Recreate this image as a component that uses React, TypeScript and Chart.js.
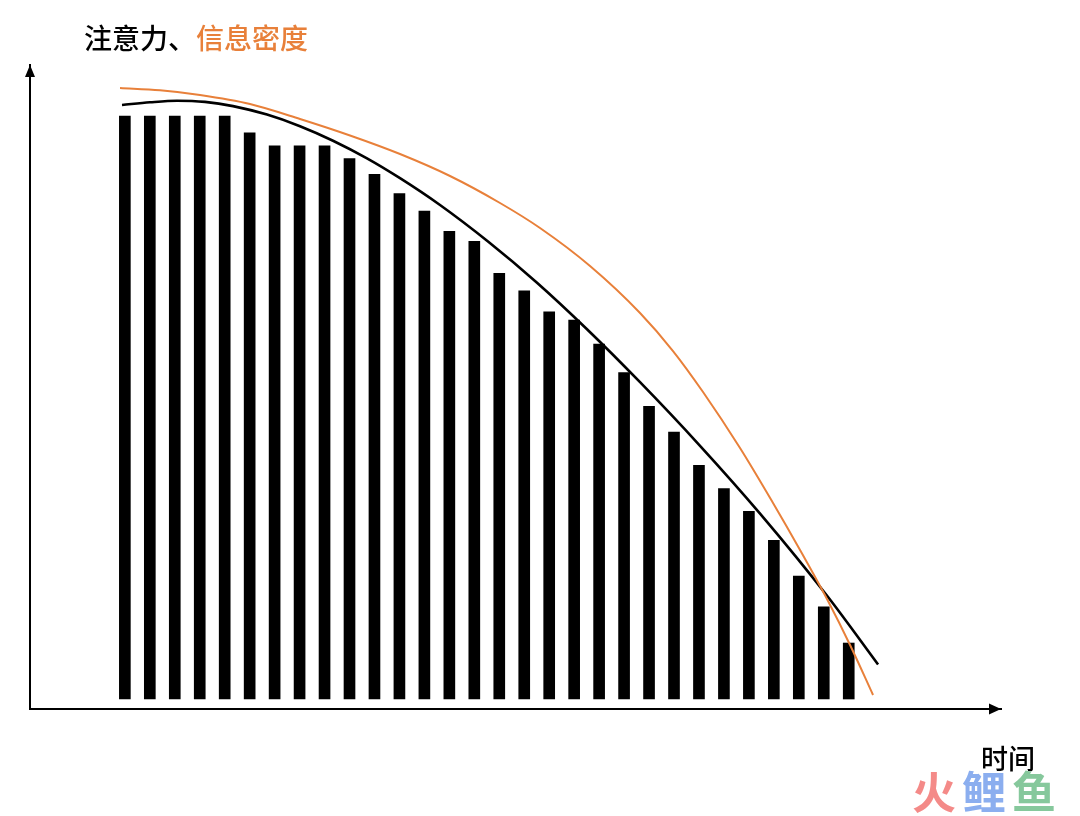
import React, { useEffect, useRef } from "react";
import { Chart, registerables } from "chart.js";

Chart.register(...registerables);

// Bar heights (attention per time slot), 0..100 scale
const barValues = [
  100, 100, 100, 100, 100, 97.1, 94.9, 94.9, 94.9, 92.7,
  90.0, 86.7, 83.7, 80.2, 78.5, 73.0, 70.0, 66.4, 65.0, 60.9,
  56.0, 50.2, 45.8, 40.1, 36.1, 32.2, 27.2, 21.1, 15.8, 9.6,
];
const barSlots = barValues.map((_, i) => i + 1);

// Black curve (attention)
const attentionX = [0.886, 2.008, 3.089, 4.211, 5.333, 6.695, 8.017, 9.339, 10.701, 12.023, 13.626, 15.549, 17.512, 19.515, 21.639, 24.043, 26.447, 29.171, 31.175];
const attentionY = [101.89, 102.35, 102.62, 102.42, 101.7, 100.24, 98.25, 95.76, 92.73, 89.33, 84.73, 78.47, 71.41, 63.43, 54.34, 43.43, 31.8, 17.5, 5.93];

// Orange curve (information density)
const densityX = [0.806, 2.408, 4.011, 6.014, 8.017, 10.02, 12.023, 14.026, 16.03, 17.632, 19.636, 21.639, 22.961, 24.163, 25.645, 26.967, 28.049, 29.171, 30.053, 30.974];
const densityY = [104.8, 104.4, 103.6, 102.06, 99.49, 96.66, 93.48, 89.71, 85.08, 80.79, 74.27, 66.21, 59.69, 52.66, 43.05, 33.62, 25.56, 16.81, 9.26, 0.69];

const xMin = -2.8;
const xMax = 36.1;
const yMin = -1.715;
const yMax = 108.75;

const ORANGE = "#E8803A";
const CJK = '"Noto Sans CJK SC", "Noto Sans", sans-serif';

const arrowPlugin = {
  id: "axisArrows",
  afterDraw(chart: any) {
    const { ctx, chartArea } = chart;
    const { left, top, right, bottom } = chartArea;
    ctx.save();
    ctx.fillStyle = "#000";
    // y arrow
    ctx.beginPath();
    ctx.moveTo(left, top);
    ctx.lineTo(left - 5, top + 12);
    ctx.lineTo(left + 5, top + 12);
    ctx.closePath();
    ctx.fill();
    // x arrow
    ctx.beginPath();
    ctx.moveTo(right, bottom);
    ctx.lineTo(right - 12, bottom - 5.5);
    ctx.lineTo(right - 12, bottom + 5.5);
    ctx.closePath();
    ctx.fill();
    ctx.restore();
  },
};

export default function App() {
  const canvasRef = useRef<HTMLCanvasElement | null>(null);

  useEffect(() => {
    const canvas = canvasRef.current;
    if (!canvas) return;
    const chart = new Chart(canvas, {
      type: "bar",
      data: {
        datasets: [
          {
            type: "line",
            label: "信息密度",
            data: densityX.map((x, i) => ({ x, y: densityY[i] })),
            borderColor: ORANGE,
            borderWidth: 2,
            pointRadius: 0,
            cubicInterpolationMode: "monotone",
            fill: false,
            order: 0,
          } as any,
          {
            type: "line",
            label: "注意力",
            data: attentionX.map((x, i) => ({ x, y: attentionY[i] })),
            borderColor: "#000",
            borderWidth: 2.6,
            pointRadius: 0,
            cubicInterpolationMode: "monotone",
            fill: false,
            order: 1,
          } as any,
          {
            type: "bar",
            label: "bars",
            data: barSlots.map((x, i) => ({ x, y: barValues[i] })),
            backgroundColor: "#000",
            borderWidth: 0,
            barThickness: 11,
            order: 2,
          } as any,
        ],
      },
      options: {
        responsive: false,
        animation: false,
        devicePixelRatio: 1,
        layout: { padding: { left: 30, top: 65, right: 79, bottom: 107 } },
        plugins: { legend: { display: false }, tooltip: { enabled: false }, title: { display: false } },
        scales: {
          x: {
            type: "linear",
            min: xMin,
            max: xMax,
            offset: false,
            grid: { display: false, drawTicks: false, offset: false },
            ticks: { display: false },
            border: { display: true, color: "#000", width: 2 },
          },
          y: {
            type: "linear",
            min: yMin,
            max: yMax,
            grid: { display: false, drawTicks: false },
            ticks: { display: false },
            border: { display: true, color: "#000", width: 2 },
          },
        },
      } as any,
      plugins: [arrowPlugin],
    });
    return () => chart.destroy();
  }, []);

  return (
    <div style={{ position: "fixed", left: 0, top: 0, width: 1080, height: 816, background: "#fff" }}>
      <canvas ref={canvasRef} width={1080} height={816} style={{ display: "block" }} />
      <div
        style={{
          position: "absolute",
          left: 84,
          top: 23,
          fontFamily: CJK,
          fontSize: 28,
          fontWeight: 500,
          lineHeight: "28px",
          color: "#000",
          whiteSpace: "nowrap",
        }}
      >
        注意力、<span style={{ color: ORANGE }}>信息密度</span>
      </div>
      <div
        style={{
          position: "absolute",
          left: 981,
          top: 744,
          fontFamily: CJK,
          fontSize: 27,
          fontWeight: 500,
          lineHeight: "27px",
          color: "#000",
          whiteSpace: "nowrap",
        }}
      >
        时间
      </div>
      <div
        style={{
          position: "absolute",
          left: 912,
          top: 768,
          fontFamily: CJK,
          fontSize: 44,
          fontWeight: 700,
          lineHeight: "44px",
          whiteSpace: "nowrap",
          letterSpacing: 6,
        }}
      >
        <span style={{ color: "#F48A88" }}>火</span>
        <span style={{ color: "#8BAEEF" }}>鲤</span>
        <span style={{ color: "#86C89C" }}>鱼</span>
      </div>
    </div>
  );
}
